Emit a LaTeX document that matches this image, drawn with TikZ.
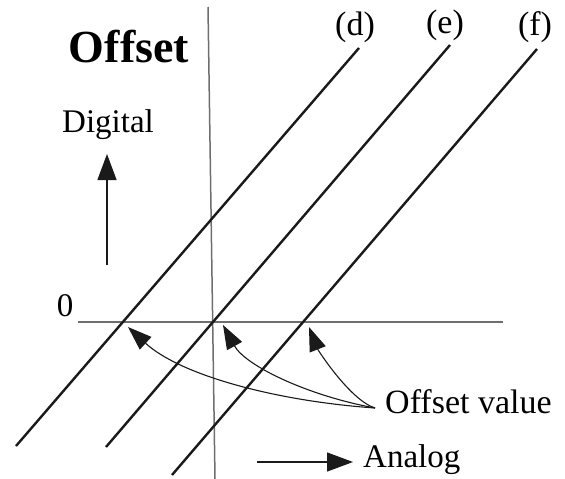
\documentclass[tikz,border=0pt]{standalone}
\usepackage{fontspec}
\setmainfont{Liberation Serif}
\usetikzlibrary{arrows.meta, positioning}
\definecolor{axisgray}{HTML}{6E6E6E}
\definecolor{inkblack}{HTML}{1A1A1A}

\begin{document}
\begin{tikzpicture}[
      x=1pt, y=-1pt,
      lbl/.style={inner sep=0pt, anchor=base, font=\fontsize{34}{37}\selectfont},
      diag/.style={line width=2.4pt, draw=inkblack},
      axisline/.style={line width=1.5pt, draw=axisgray},
      pointer/.style={-{Triangle[length=26pt, width=19pt]}, line width=1.3pt, draw=inkblack, fill=inkblack},
      curvy/.style={-{Triangle[length=24pt, width=17pt]}, line width=1.1pt, draw=inkblack}
    ]
      \useasboundingbox (0,0) rectangle (565,479);
      % axes
      \coordinate (vtop) at (208,7);
      \coordinate (vbot) at (215,479);
      \coordinate (hleft) at (78,322);
      \coordinate (hright) at (503,322);
      \draw[axisline] (vtop) -- (vbot);
      \draw[axisline] (hleft) -- (hright);
      % characteristic lines
      \coordinate (dlow) at (16,446);
      \coordinate (dhigh) at (359,48);
      \coordinate (elow) at (106,447);
      \coordinate (ehigh) at (450,45);
      \coordinate (flow) at (172,475);
      \coordinate (fhigh) at (537,49);
      \draw[diag] (dlow) -- (dhigh);
      \draw[diag] (elow) -- (ehigh);
      \draw[diag] (flow) -- (fhigh);
      \node[lbl] (dlabel) at (355,35) {(d)};
      \node[lbl] (elabel) at (445,33) {(e)};
      \node[lbl] (flabel) at (535,35) {(f)};
      % titles
      \node[inner sep=0pt, anchor=base, font=\fontsize{46}{50}\selectfont\bfseries] (title) at (129,62) {Offset};
      \node[lbl, font=\fontsize{33}{36}\selectfont] (digital) at (108,132) {Digital};
      \node[lbl, font=\fontsize{33}{36}\selectfont] (zero) at (65,316) {0};
      \node[lbl, anchor=base west, font=\fontsize{33}{36}\selectfont] (analog) at (363,467) {Analog};
      \node[lbl, anchor=base west] (offval) at (385,413) {Offset value};
      % direction arrows
      \coordinate (digfoot) at (107,265);
      \coordinate (dighead) at (107,154);
      \coordinate (anfoot) at (257,462);
      \coordinate (anhead) at (353,462);
      \draw[pointer] (digfoot) -- (dighead);
      \draw[pointer] (anfoot) -- (anhead);
      % offset pointers
      \coordinate (src) at (375,408);
      \coordinate (tipd) at (128,327);
      \coordinate (tipe) at (223,325);
      \coordinate (tipf) at (309,327);
      \draw[curvy] (src) .. controls (275,401) and (180,375) .. (tipd);
      \draw[curvy] (src) .. controls (305,395) and (245,365) .. (tipe);
      \draw[curvy] (src) .. controls (350,400) and (318,350) .. (tipf);
    \end{tikzpicture}
\end{document}
